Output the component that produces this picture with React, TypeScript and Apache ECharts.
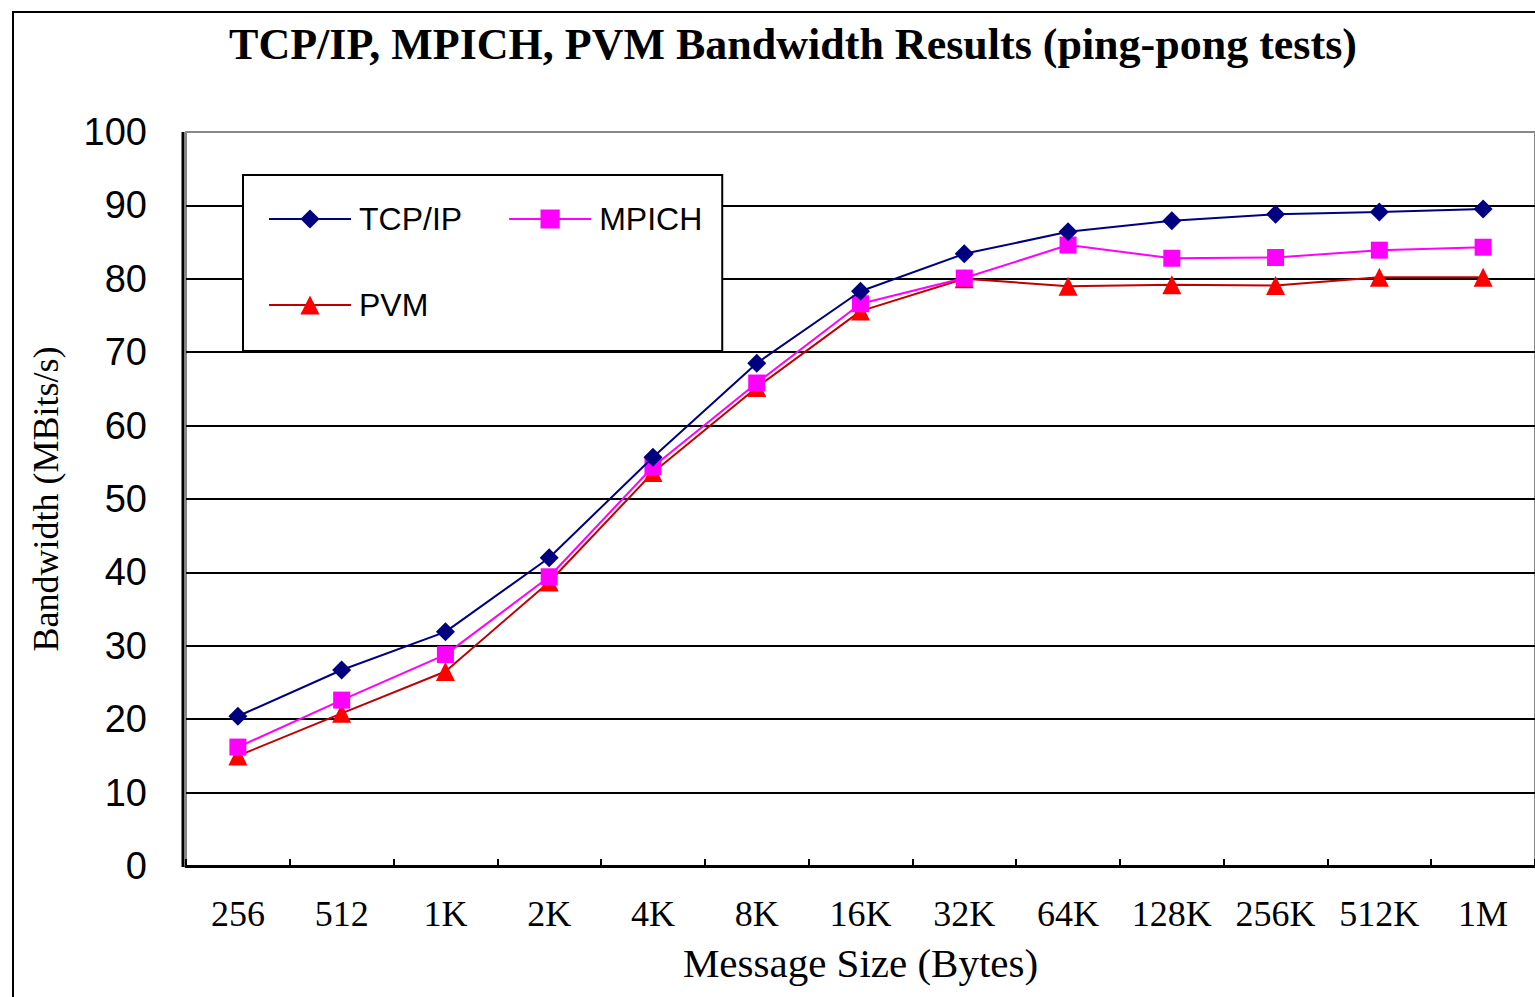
import React, { useEffect, useRef } from "react";
import * as echarts from "echarts";

const categories = ["256", "512", "1K", "2K", "4K", "8K", "16K", "32K", "64K", "128K", "256K", "512K", "1M"];
const tcpValues = [20.4, 26.7, 31.9, 42.0, 55.7, 68.5, 78.3, 83.4, 86.4, 87.9, 88.8, 89.1, 89.5];
const mpichValues = [16.2, 22.6, 28.8, 39.4, 54.4, 65.8, 76.6, 80.1, 84.6, 82.8, 82.9, 83.9, 84.3];
const pvmValues = [15.0, 20.8, 26.5, 38.7, 53.6, 65.2, 75.6, 80.0, 79.0, 79.2, 79.1, 80.2, 80.2];

const SERIF = "'Liberation Serif', 'DejaVu Serif', serif";
const SANS = "'Liberation Sans', 'DejaVu Sans', sans-serif";

export default function App() {
  const ref = useRef<HTMLDivElement>(null);
  useEffect(() => {
    if (!ref.current) return;
    const chart = echarts.init(ref.current, null, { renderer: "svg" });
    chart.setOption({
      animation: false,
      backgroundColor: "#ffffff",
      title: {
        text: "TCP/IP, MPICH, PVM Bandwidth Results (ping-pong tests)",
        left: 788,
        textAlign: "center",
        top: 17,
        textStyle: { fontFamily: SERIF, fontWeight: "bold", fontSize: 44, color: "#000" },
      },
      graphic: [
        {
          type: "rect",
          shape: { x: 13, y: 12, width: 1600, height: 1100 },
          style: { fill: "none", stroke: "#000", lineWidth: 2 },
          silent: true,
          z: 100,
        },
        {
          type: "line",
          shape: { x1: 183, y1: 132, x2: 183, y2: 867 },
          style: { stroke: "#000", lineWidth: 3 },
          silent: true,
          z: 50,
        },
      ],
      legend: {
        left: 243,
        top: 175,
        width: 480,
        orient: "horizontal",
        itemGap: 46,
        itemWidth: 82,
        itemHeight: 24,
        padding: [24, 20, 26, 25],
        backgroundColor: "#fff",
        borderColor: "#000",
        borderWidth: 2,
        textStyle: { fontFamily: SANS, fontSize: 32, color: "#000", lineHeight: 40, padding: [0, 0, 0, 3] },
        data: ["TCP/IP", "MPICH", "PVM"],
      },
      grid: { left: 186, top: 132, width: 1352, height: 734, show: true, borderColor: "#888", borderWidth: 2 },
      xAxis: {
        type: "category",
        data: categories,
        boundaryGap: true,
        name: "Message Size (Bytes)",
        nameLocation: "middle",
        nameGap: 76,
        nameTextStyle: { fontFamily: SERIF, fontSize: 41, color: "#000" },
        axisLine: { lineStyle: { color: "#000", width: 3 } },
        axisTick: { show: true, inside: true, length: 7, interval: 0, lineStyle: { color: "#000", width: 2 } },
        axisLabel: { fontFamily: SERIF, fontSize: 36, color: "#000", margin: 30, interval: 0, hideOverlap: false },
      },
      yAxis: {
        type: "value",
        min: 0,
        max: 100,
        interval: 10,
        name: "Bandwidth (MBits/s)",
        nameLocation: "middle",
        nameGap: 122,
        nameTextStyle: { fontFamily: SERIF, fontSize: 36, color: "#000" },
        axisLine: { show: false },
        axisTick: { show: false },
        axisLabel: { fontFamily: SANS, fontSize: 38, color: "#000", margin: 39 },
        splitLine: { show: true, showMaxLine: false, showMinLine: false, lineStyle: { color: "#000", width: 2 } },
      },
      series: [
        {
          name: "TCP/IP",
          type: "line",
          data: tcpValues,
          symbol: "diamond",
          symbolSize: 19,
          itemStyle: { color: "#000080" },
          lineStyle: { color: "#000080", width: 2 },
          z: 4,
        },
        {
          name: "MPICH",
          type: "line",
          data: mpichValues,
          symbol: "rect",
          symbolSize: 17,
          itemStyle: { color: "#FF00FF" },
          lineStyle: { color: "#FF00FF", width: 2 },
          z: 3,
        },
        {
          name: "PVM",
          type: "line",
          data: pvmValues,
          symbol: "triangle",
          symbolSize: 19,
          itemStyle: { color: "#FF0000" },
          lineStyle: { color: "#C00000", width: 2 },
          z: 2,
        },
      ],
    });
    return () => chart.dispose();
  }, []);
  return (
    <div
      ref={ref}
      style={{ position: "fixed", left: 0, top: 0, width: 1535, height: 997, background: "#fff" }}
    />
  );
}
